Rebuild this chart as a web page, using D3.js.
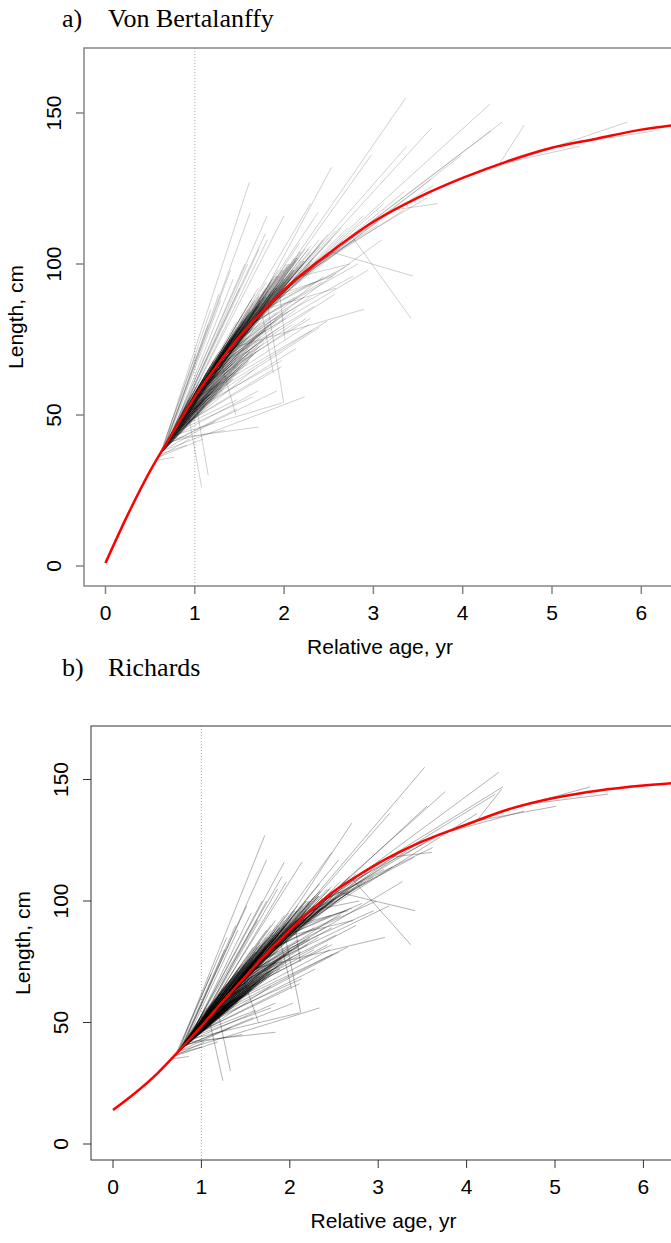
<!DOCTYPE html>
<html>
<head>
<meta charset="utf-8">
<script src="https://cdn.jsdelivr.net/npm/d3@7"></script>
<style>
    body { margin: 0; background: #fff; }
    svg text { font-family: "Liberation Sans", Arial, sans-serif; fill: #000; }
    .title { font-family: "Liberation Serif", "Times New Roman", serif; }
</style>
</head>
<body>
<svg id="chart" width="671" height="1243"></svg>
<script>
const xTicks = [0, 1, 2, 3, 4, 5, 6];
const yTicks = [0, 50, 100, 150];

// fitted curves
const vbAge  = [0, 0.25, 0.5, 0.75, 1, 1.25, 1.5, 1.75, 2, 2.5, 3, 3.5, 4, 4.5, 5, 5.5, 6, 6.5];
const vbLen  = [1, 17, 31.5, 44, 56, 66.5, 76, 84, 91.5, 103.5, 114, 122, 128.5, 134, 138.5, 141.5, 144.5, 146.5];
const richAge = [0, 0.25, 0.5, 0.75, 1, 1.25, 1.5, 1.75, 2, 2.25, 2.5, 2.75, 3, 3.5, 4, 4.5, 5, 5.5, 6, 6.5];
const richLen = [14, 21, 29, 38.5, 48.5, 59, 69, 79, 88, 96.5, 104, 110, 115.5, 124.5, 131.5, 138, 142.5, 145.5, 147.5, 149];

// growth increments: [length at first capture, length at recapture, years at liberty]
const outliers = [
    [38,127,0.98],[40,117,0.95],[42,116,1.1],[44,116,1.25],[41,110,1.1],[39,98,0.75],[40,90,0.6],
    [42,100,0.85],[38,85,0.55],[43,95,0.7],[45,105,0.95],[39,80,0.5],[47,108,1.0],[41,88,0.6],
    [44,92,0.75],[37,70,0.4],[46,100,0.8],[55,117,1.4],[50,107,1.3],[60,120,1.2],
    [78,155,1.8],[77,132,1.0],[80,136,1.35],[75,139,1.9],[90,145,1.7],[95,153,2.16],[100,144,1.96],
    [105,147,1.87],[85,136,2.2],[133,146,0.28],[133,139,0.9],[138,147,0.9],[140,144,0.88],[128,137,0.9],
    [118,120,0.47],[96,100,0.55],[90,96,0.6],[85,92,0.8],[88,97,0.7]
];

const slowGrowers = [
    [38,56,1.6],[40,58,1.25],[45,65,1.1],[42,65,0.95],[42,46,1.0],[41,45,0.65],[45,55,0.7],[43,54,1.25],
    [35,36,0.2],[36,42,0.5],[55,81,1.5],[50,79,1.52],[70,96,1.1],[60,82,1.2],[72,85,1.5],[70,108,1.75],
    [109,82,0.66],[104,96,0.92],[52,26,0.16],[56,30,0.15],[86,54,0.18],[84,64,0.13],[90,75,0.06],[68,50,0.17],
    [38,48,0.6],[40,52,0.8],[42,58,1.0],[44,56,0.9],[45,66,1.2],[48,72,1.3],[50,68,1.1],[52,78,1.4],
    [55,80,1.3],[58,82,1.2],[60,80,1.0],[63,90,1.4],[66,86,1.1],[70,98,1.6],[75,96,1.3],[80,100,1.2],
    [36,42,0.35],[37,40,0.3]
];

const coreAbove = [
    [37,53,0.3],[37,62,0.5],[37,71,0.7],[37,79,0.9],[37,86,1.1],[37,92,1.3],
    [38,55,0.3],[38,64,0.5],[38,73,0.7],[38,81,0.9],[38,88,1.1],[38,88,1.0],
    [39,56,0.3],[39,65,0.5],[39,74,0.7],[39,82,0.9],[39,90,1.2],
    [40,57,0.3],[40,66,0.5],[40,74,0.7],[40,82,0.9],[40,89,1.1],[40,96,1.4],[40,90,1.0],
    [41,58,0.3],[41,67,0.5],[41,75,0.7],[41,83,0.9],[41,91,1.2],
    [42,59,0.3],[42,68,0.5],[42,76,0.7],[42,84,0.9],[42,90,1.1],[42,98,1.4],[42,92,1.0],
    [43,60,0.3],[43,69,0.5],[43,77,0.7],[43,85,0.9],[43,92,1.2],
    [44,60,0.3],[44,70,0.5],[44,78,0.7],[44,86,0.95],[44,94,1.25],[44,94,1.05],
    [45,62,0.3],[45,71,0.5],[45,79,0.7],[45,87,0.95],[45,95,1.3],
    [46,62,0.3],[46,71,0.5],[46,79,0.7],[46,86,0.9],[46,93,1.15],[46,96,1.1],
    [48,64,0.3],[48,73,0.5],[48,81,0.7],[48,88,0.9],[48,96,1.2],[48,98,1.1],
    [50,66,0.3],[50,74,0.5],[50,82,0.7],[50,89,0.9],[50,97,1.2],[50,102,1.45],[50,100,1.15],
    [52,68,0.3],[52,76,0.5],[52,84,0.7],[52,91,0.9],[52,98,1.2],[52,102,1.2],
    [54,69,0.3],[54,77,0.5],[54,85,0.7],[54,92,0.95],[54,100,1.25],[55,104,1.2],
    [56,71,0.3],[56,79,0.5],[56,87,0.75],[56,94,1.0],
    [58,73,0.3],[58,81,0.5],[58,88,0.75],[58,96,1.05],[58,106,1.25],
    [60,75,0.3],[60,83,0.5],[60,90,0.75],[60,98,1.1],[60,110,1.4],
    [63,78,0.3],[63,86,0.55],[63,93,0.8],[63,101,1.15],
    [66,80,0.3],[66,88,0.6],[66,96,0.9],[66,108,1.2],
    [70,84,0.35],[70,92,0.65],[70,100,0.95],[70,112,1.3],
    [74,88,0.4],[74,97,0.75],[74,104,1.05],
    [78,92,0.45],[78,101,0.8],[78,108,1.1],[78,112,1.15],
    [82,96,0.5],[82,105,0.9],[82,116,1.2],
    [86,100,0.55],[86,110,1.0],[86,120,1.3],
    [90,104,0.6],[90,114,1.1],[90,124,1.4],
    [95,108,0.65],[95,118,1.2],[95,128,1.5],
    [100,113,0.7],[100,122,1.25],[105,126,1.1],
    [40,81,0.8],[40,88,1.0],[40,95,1.2],[40,100,1.4],
    [43,83,0.8],[43,90,1.0],[43,96,1.2],[43,101,1.4],
    [46,85,0.8],[46,92,1.0],[46,98,1.2],[46,104,1.4],
    [49,87,0.8],[49,94,1.0],[49,100,1.2],
    [52,89,0.8],[52,96,1.0],[52,102,1.25],
    [55,91,0.8],[55,98,1.0],[58,93,0.8],[58,100,1.0],
    [62,96,0.8],[62,102,1.0],[66,99,0.8],[66,105,1.0],
    [70,102,0.8],[70,108,1.05],[75,105,0.8],[75,111,1.1],
    [48,76,0.6],[48,87,0.9],[48,95,1.2],[51,79,0.6],[51,89,0.9],[51,97,1.2],
    [54,81,0.6],[54,91,0.9],[54,99,1.2],[57,84,0.6],[57,93,0.9],[57,101,1.2],
    [60,86,0.6],[60,95,0.9],[60,103,1.2],[64,89,0.6],[64,98,0.9],
    [68,92,0.6],[68,101,0.9],[72,95,0.6],[72,104,0.9],
    [76,98,0.6],[76,106,0.9],[80,101,0.6],[80,108,0.9]
];

const coreBelow = [
    [37,48,0.3],[37,53,0.5],[37,58,0.7],
    [38,47,0.25],[38,52,0.4],[38,57,0.6],[38,62,0.8],
    [39,48,0.25],[39,54,0.45],[39,59,0.65],
    [40,49,0.25],[40,54,0.4],[40,60,0.6],[40,64,0.8],
    [41,50,0.25],[41,56,0.45],[41,61,0.65],
    [42,51,0.25],[42,55,0.4],[42,60,0.55],[42,66,0.8],
    [43,52,0.25],[43,57,0.45],[43,62,0.65],
    [44,53,0.25],[44,57,0.4],[44,63,0.6],[44,68,0.85],
    [45,54,0.25],[45,59,0.45],[45,64,0.65],
    [46,55,0.25],[46,59,0.4],[46,65,0.6],[46,70,0.85],
    [47,56,0.25],[47,61,0.45],[47,66,0.65],
    [48,57,0.25],[48,62,0.45],[48,67,0.65],[48,72,0.9],
    [50,59,0.25],[50,64,0.45],[50,69,0.65],[50,74,0.9],
    [52,61,0.25],[52,66,0.45],[52,71,0.7],
    [54,63,0.25],[54,68,0.5],[54,73,0.75],
    [56,65,0.3],[56,70,0.5],[56,75,0.75],
    [58,67,0.3],[58,72,0.55],[58,77,0.8],
    [60,69,0.3],[60,74,0.55],[60,79,0.85],
    [63,72,0.3],[63,77,0.55],[63,82,0.85],
    [66,75,0.35],[66,80,0.6],[66,85,0.9],
    [70,79,0.4],[70,84,0.65],[70,89,0.95],
    [75,84,0.45],[75,89,0.75],
    [80,89,0.5],[80,94,0.8],
    [85,94,0.55],[85,99,0.9],
    [37,50,0.4],[37,56,0.6],[37,62,0.8],[37,68,1.0],
    [39,51,0.4],[39,57,0.6],[39,64,0.8],[39,70,1.0],
    [41,52,0.4],[41,59,0.6],[41,66,0.8],[41,71,1.0],
    [43,54,0.4],[43,61,0.6],[43,67,0.8],[43,73,1.0],
    [45,56,0.4],[45,63,0.6],[45,69,0.8],[45,75,1.0],
    [47,58,0.4],[47,64,0.6],[47,71,0.8],
    [49,59,0.4],[49,66,0.6],[49,72,0.8],
    [51,61,0.4],[51,67,0.6],[51,74,0.8],
    [53,63,0.4],[53,69,0.6],[53,76,0.8],
    [55,65,0.4],[55,71,0.6],[55,78,0.8],
    [57,67,0.4],[57,73,0.6],[57,80,0.8],
    [59,69,0.4],[59,75,0.6],[59,82,0.85],
    [62,72,0.4],[62,78,0.65],[62,85,0.9],
    [65,75,0.45],[65,81,0.7],[68,78,0.5],[68,84,0.75],
    [37,44,0.2],[37,49,0.35],[37,53,0.5],[38,45,0.2],[38,50,0.35],[38,54,0.5],
    [40,47,0.2],[40,52,0.35],[40,56,0.5],[42,49,0.2],[42,54,0.35],[42,58,0.5],
    [44,51,0.2],[44,55,0.35],[44,60,0.5],[46,53,0.2],[46,57,0.35],[46,61,0.5],
    [48,55,0.2],[48,59,0.35],[48,63,0.5],[50,57,0.2],[50,61,0.35],[50,65,0.5],
    [52,59,0.2],[52,63,0.35],[52,67,0.5],[55,61,0.2],[55,66,0.35],[55,70,0.5],
    [58,64,0.2],[58,69,0.35],[61,67,0.2],[61,71,0.35],
    [39,49,0.3],[39,55,0.45],[41,51,0.3],[41,57,0.45],[43,53,0.3],[43,58,0.45],
    [45,54,0.3],[45,60,0.45],[47,56,0.3],[47,62,0.45]
];

const increments = [...outliers, ...slowGrowers, ...coreAbove, ...coreBelow];

const panels = [
    {
        title: 'a)', name: 'Von Bertalanffy', titleY: 27,
        age: vbAge, len: vbLen,
        left: 84, right: 676, top: 48, bottom: 586,
        x0: 105.5, x6: 641.3, y0: 566, y150: 113,
        frame: '#858585', frameW: 1.5, alpha: 0.19
    },
    {
        title: 'b)', name: 'Richards', titleY: 676,
        age: richAge, len: richLen,
        left: 91, right: 676, top: 726, bottom: 1160,
        x0: 113, x6: 643.4, y0: 1144, y150: 779.5,
        frame: '#333', frameW: 1, alpha: 0.3
    }
];

const svg = d3.select('#chart');

panels.forEach((p, i) => drawPanel(p, i));

function drawPanel(p, i) {
    let x = d3.scaleLinear().domain([0, 6]).range([p.x0, p.x6]);
    let y = d3.scaleLinear().domain([0, 150]).range([p.y0, p.y150]);
    // length -> relative age, piecewise along the fitted curve
    let ageOf = d3.scaleLinear().domain(p.len).range(p.age);

    let g = svg.append('g');

    g.append('text')
        .attr('class', 'title')
        .attr('x', 62).attr('y', p.titleY)
        .style('font-size', '26px')
        .text(p.title);
    g.append('text')
        .attr('class', 'title')
        .attr('x', 108).attr('y', p.titleY)
        .style('font-size', '26px')
        .text(p.name);

    svg.append('clipPath').attr('id', 'clip' + i)
        .append('rect')
        .attr('x', p.left).attr('y', p.top)
        .attr('width', p.right - p.left).attr('height', p.bottom - p.top);

    let plot = g.append('g').attr('clip-path', 'url(#clip' + i + ')');

    // reference line at age 1
    plot.append('line')
        .attr('x1', x(1)).attr('x2', x(1))
        .attr('y1', p.top).attr('y2', p.bottom)
        .attr('stroke', '#aaa')
        .attr('stroke-width', 1)
        .attr('stroke-dasharray', '1,2');

    plot.append('g')
        .selectAll('line')
        .data(increments)
        .join('line')
        .attr('x1', d => x(ageOf(d[0])))
        .attr('y1', d => y(d[0]))
        .attr('x2', d => x(ageOf(d[0]) + d[2]))
        .attr('y2', d => y(d[1]))
        .attr('stroke', '#000')
        .attr('stroke-opacity', p.alpha)
        .attr('stroke-width', 1);

    let curve = d3.line()
        .x((d, j) => x(p.age[j]))
        .y(d => y(d))
        .curve(d3.curveMonotoneX);

    plot.append('path')
        .datum(p.len)
        .attr('d', curve)
        .attr('fill', 'none')
        .attr('stroke', '#ff0000')
        .attr('stroke-width', 2.5);

    // frame
    g.append('rect')
        .attr('x', p.left).attr('y', p.top)
        .attr('width', p.right - p.left).attr('height', p.bottom - p.top)
        .attr('fill', 'none')
        .attr('stroke', p.frame)
        .attr('stroke-width', p.frameW);

    // x axis
    let xa = g.append('g');
    xa.selectAll('line')
        .data(xTicks)
        .join('line')
        .attr('x1', d => x(d)).attr('x2', d => x(d))
        .attr('y1', p.bottom).attr('y2', p.bottom + 8)
        .attr('stroke', p.frame).attr('stroke-width', p.frameW);
    xa.selectAll('text')
        .data(xTicks)
        .join('text')
        .attr('x', d => x(d))
        .attr('y', p.bottom + 34)
        .attr('text-anchor', 'middle')
        .style('font-size', '21px')
        .text(d => d);
    g.append('text')
        .attr('x', (p.left + p.right) / 2)
        .attr('y', p.bottom + 68)
        .attr('text-anchor', 'middle')
        .style('font-size', '21px')
        .text('Relative age, yr');

    // y axis
    let ya = g.append('g');
    ya.selectAll('line')
        .data(yTicks)
        .join('line')
        .attr('x1', p.left - 8).attr('x2', p.left)
        .attr('y1', d => y(d)).attr('y2', d => y(d))
        .attr('stroke', p.frame).attr('stroke-width', p.frameW);
    ya.selectAll('text')
        .data(yTicks)
        .join('text')
        .attr('transform', d => 'translate(' + (p.left - 23) + ',' + y(d) + ') rotate(-90)')
        .attr('text-anchor', 'middle')
        .style('font-size', '21px')
        .text(d => d);
    g.append('text')
        .attr('transform', 'translate(' + (p.left - 61) + ',' + ((p.top + p.bottom) / 2) + ') rotate(-90)')
        .attr('text-anchor', 'middle')
        .style('font-size', '21px')
        .text('Length, cm');
}
</script>
</body>
</html>
